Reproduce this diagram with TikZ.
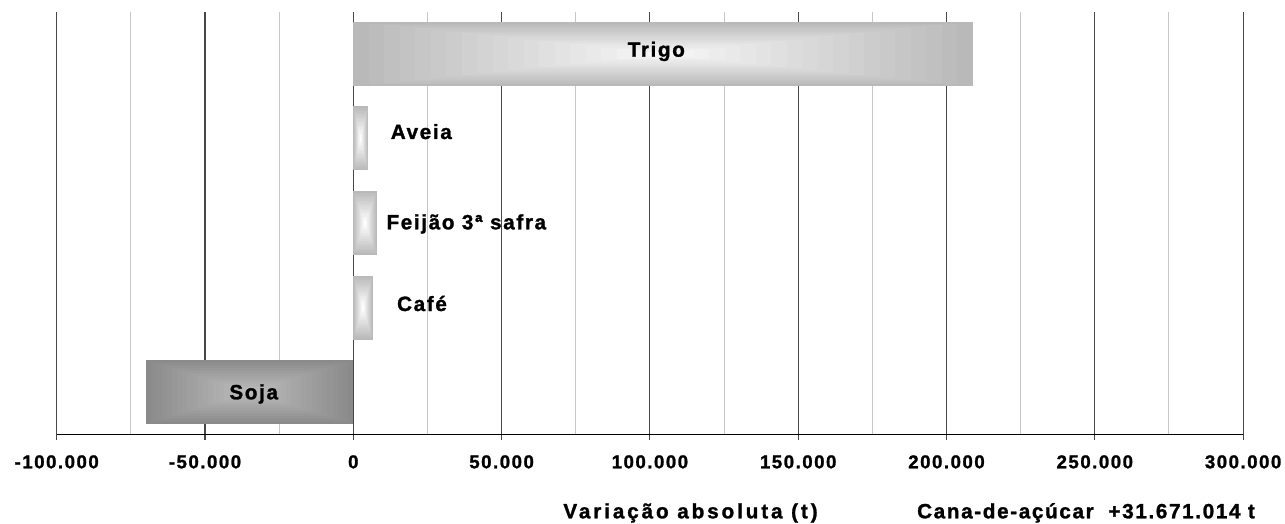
\documentclass[tikz,border=0pt]{standalone}
\usepackage{fontspec}
\setmainfont{Liberation Sans}[LetterSpace=8, BoldFeatures={FakeBold=1.3}]
\usepackage{xcolor}

\definecolor{baredge}{HTML}{B9B9B9}
\definecolor{barcentre}{HTML}{F6F6F6}
\definecolor{sojaedge}{HTML}{8A8A8A}
\definecolor{sojacentre}{HTML}{BBBBBB}

% bar with a stepped gradient from the centre: x1 y1 x2 y2 edge centre
\newcommand{\gradbar}[6]{%
  \foreach \k in {0,...,19}{%
    \pgfmathsetmacro\fr{\k/20}%
    \pgfmathsetmacro\pc{100*\k/19}%
    \fill[#6!\pc!#5] ({#1+\fr*(#3-#1)/2},{#2+\fr*(#4-#2)/2}) rectangle ({#3-\fr*(#3-#1)/2},{#4-\fr*(#4-#2)/2});
  }}

\begin{document}
\begin{tikzpicture}[x=0.75pt,y=-0.75pt,
    lbl/.style={font=\bfseries\fontsize{15.5}{18}\selectfont, inner sep=0pt, anchor=base},
    ticklbl/.style={font=\bfseries\fontsize{14}{16}\selectfont, inner sep=0pt, anchor=base},
    majorgrid/.style={draw=black!72, line width=0.8pt},
    minorgrid/.style={draw=black!22, line width=0.75pt}]
\useasboundingbox (0,0) rectangle (1285,524);

% grid
\foreach \v in {-75,-25,...,275}{
  \pgfmathsetmacro\gx{353.3+2.966*\v}
  \draw[minorgrid] (\gx,12) -- (\gx,434.3);
}
\foreach \v in {-100,-50,...,300}{
  \pgfmathsetmacro\gx{353.3+2.966*\v}
  \draw[majorgrid] (\gx,12) -- (\gx,439.5);
}
\draw[black, line width=0.8pt] (57,434.3) -- (1243.3,434.3);

% bars
\gradbar{353.3}{22}{972.7}{86}{baredge}{barcentre}
\gradbar{353.3}{106.5}{368}{170.5}{baredge}{white}
\gradbar{353.3}{191}{376.7}{255}{baredge}{white}
\gradbar{353.3}{275.5}{372.7}{339.5}{baredge}{white}
\gradbar{146}{360}{353.3}{424}{sojaedge}{sojacentre}

\node[lbl] (trigo) at (656.3,56.7) {Trigo};
\node[lbl] (aveia) at (421.3,139) {Aveia};
\node[lbl] (feijao) at (466.3,229.3) {Feijão 3ª safra};
\node[lbl] (cafe) at (422,311) {Café};
\node[lbl] (soja) at (253.7,399.3) {Soja};

% axis labels
\foreach \v/\t in {-100/-100.000,-50/-50.000,0/0,50/50.000,100/100.000,150/150.000,200/200.000,250/250.000,300/300.000}{
  \pgfmathsetmacro\gx{353.3+2.966*\v}
  \node[ticklbl] (tick\v) at (\gx,468.3) {\t};
}
\node[lbl] (axistitle) at (690.5,518.3) {\addfontfeature{LetterSpace=14}Variação absoluta (t)};
\node[lbl] (cana) at (1086,518.3) {Cana-de-açúcar\ \ +31.671.014 t};
\end{tikzpicture}
\end{document}
